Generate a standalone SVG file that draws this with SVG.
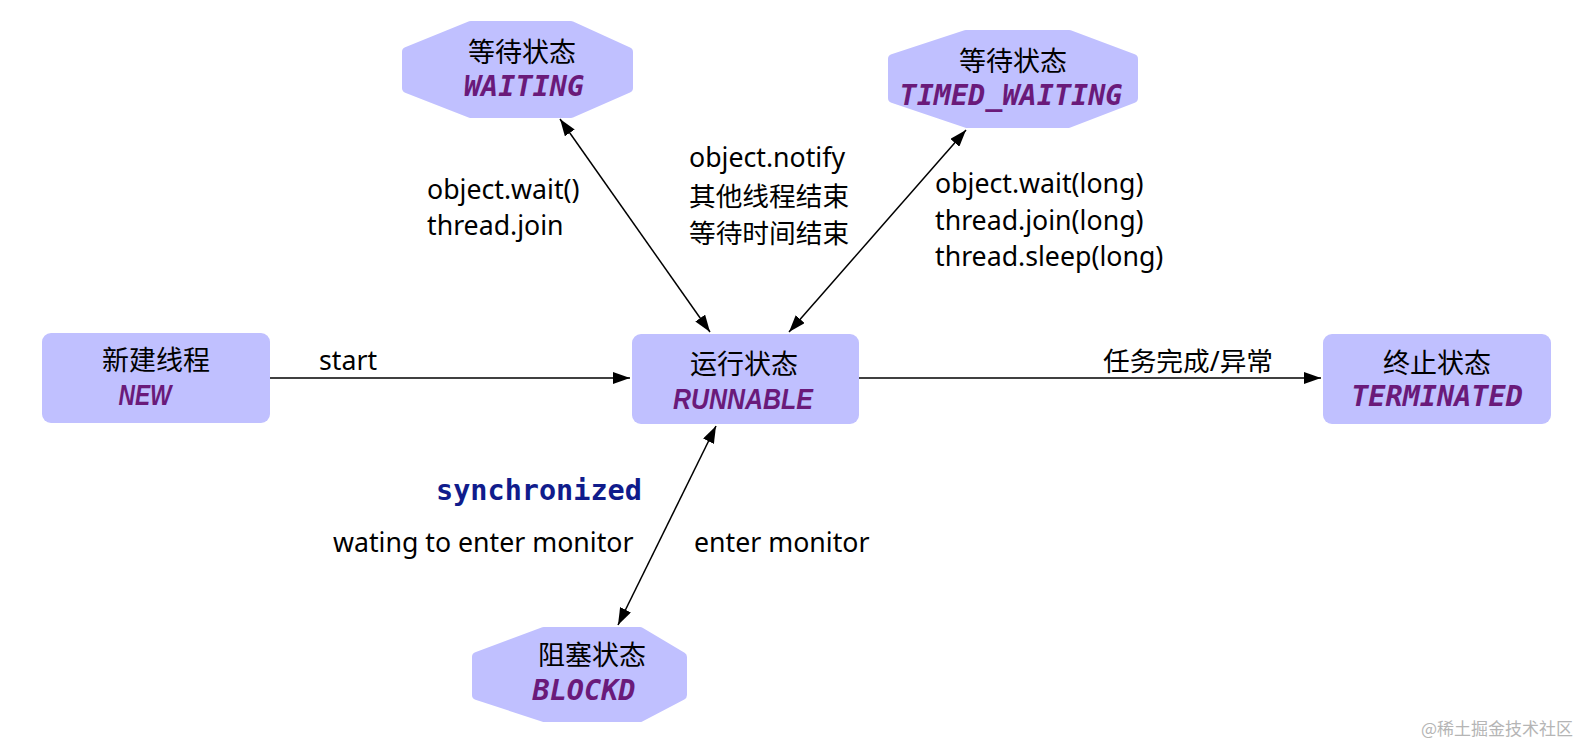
<svg xmlns="http://www.w3.org/2000/svg" width="1581" height="745" viewBox="0 0 1581 745">
<style>
.box{fill:#c0c0ff;}
.oct{fill:#c0c0ff;stroke:#c0c0ff;stroke-width:10;stroke-linejoin:round;}
.t{font-family:"Noto Sans","Noto Sans CJK SC",sans-serif;font-size:26.7px;fill:#000;}
.tc{font-family:"Noto Sans CJK SC",sans-serif;font-size:27px;fill:#000;text-anchor:middle;}
.mono{font-family:"DejaVu Sans Mono",monospace;font-size:28.5px;font-weight:bold;font-style:italic;fill:#6a1a7a;text-anchor:middle;}
.sans{font-family:"Liberation Sans",Arial,sans-serif;font-size:29px;font-weight:bold;font-style:italic;fill:#6a1a7a;text-anchor:middle;}
.line{stroke:#000;stroke-width:1.5;fill:none;marker-end:url(#arr);}
.bi{marker-start:url(#arr);}
</style>
<defs>
<marker id="arr" viewBox="0 0 17 12" refX="17" refY="6" markerWidth="17" markerHeight="12" markerUnits="userSpaceOnUse" orient="auto-start-reverse">
<path d="M0,0 L17,6 L0,12 Z" fill="#000"/>
</marker>
</defs>
<rect width="1581" height="745" fill="#fff"/>
<g id="connectors">
<line class="line" x1="268" y1="378" x2="630" y2="378"/>
<line class="line" x1="859" y1="378" x2="1321" y2="378"/>
<line class="line bi" x1="560" y1="119" x2="710" y2="332"/>
<line class="line bi" x1="966" y1="130" x2="789" y2="332"/>
<line class="line bi" x1="716" y1="426" x2="618" y2="625"/>
</g>
<g id="labels">
<text class="t" x="319" y="370">start</text>
<text class="t" x="427" y="199">object.wait()</text>
<text class="t" x="427" y="235">thread.join</text>
<text class="t" x="689" y="167">object.notify</text>
<text class="t" x="689" y="206">其他线程结束</text>
<text class="t" x="689" y="243">等待时间结束</text>
<text class="t" x="935" y="193">object.wait(long)</text>
<text class="t" x="935" y="230">thread.join(long)</text>
<text class="t" x="935" y="266">thread.sleep(long)</text>
<text class="t" x="1103" y="371">任务完成/异常</text>
<text x="436" y="500" style="font-family:'DejaVu Sans Mono',monospace;font-size:28.5px;font-weight:bold;fill:#101c8c">synchronized</text>
<text class="t" x="333" y="552">wating to enter monitor</text>
<text class="t" x="694" y="552">enter monitor</text>
</g>
<g id="node-waiting">
<polygon class="oct" points="471,26 571,26 628,52 628,88 571,113 471,113 407,88 407,52"/>
<text class="tc" x="522" y="62">等待状态</text>
<text class="mono" x="524" y="96">WAITING</text>
</g>
<g id="node-timed-waiting">
<polygon class="oct" points="966,35 1069,35 1133,59 1133,98 1068,123 967,123 893,98 893,59"/>
<text class="tc" x="1013" y="71">等待状态</text>
<text class="mono" x="1011" y="105">TIMED_WAITING</text>
</g>
<g id="node-new">
<rect class="box" x="42" y="333" width="228" height="90" rx="9"/>
<text class="tc" x="156" y="370">新建线程</text>
<text class="sans" x="145" y="405" textLength="53" lengthAdjust="spacingAndGlyphs">NEW</text>
</g>
<g id="node-runnable">
<rect class="box" x="632" y="334" width="227" height="90" rx="9"/>
<text class="tc" x="744" y="374">运行状态</text>
<text class="sans" x="743" y="409" textLength="140" lengthAdjust="spacingAndGlyphs">RUNNABLE</text>
</g>
<g id="node-terminated">
<rect class="box" x="1323" y="334" width="228" height="90" rx="9"/>
<text class="tc" x="1437" y="373">终止状态</text>
<text class="mono" x="1437" y="406">TERMINATED</text>
</g>
<g id="node-blocked">
<polygon class="oct" points="544,632 640,632 682,657 682,695 640,717 544,717 477,695 477,657"/>
<text class="tc" x="592" y="665">阻塞状态</text>
<text class="mono" x="584" y="700">BLOCKD</text>
</g>
<text x="1573" y="735" text-anchor="end" style="font-family:'Noto Sans CJK SC',sans-serif;font-size:17px;fill:#b5b5b5">@稀土掘金技术社区</text>
</svg>
